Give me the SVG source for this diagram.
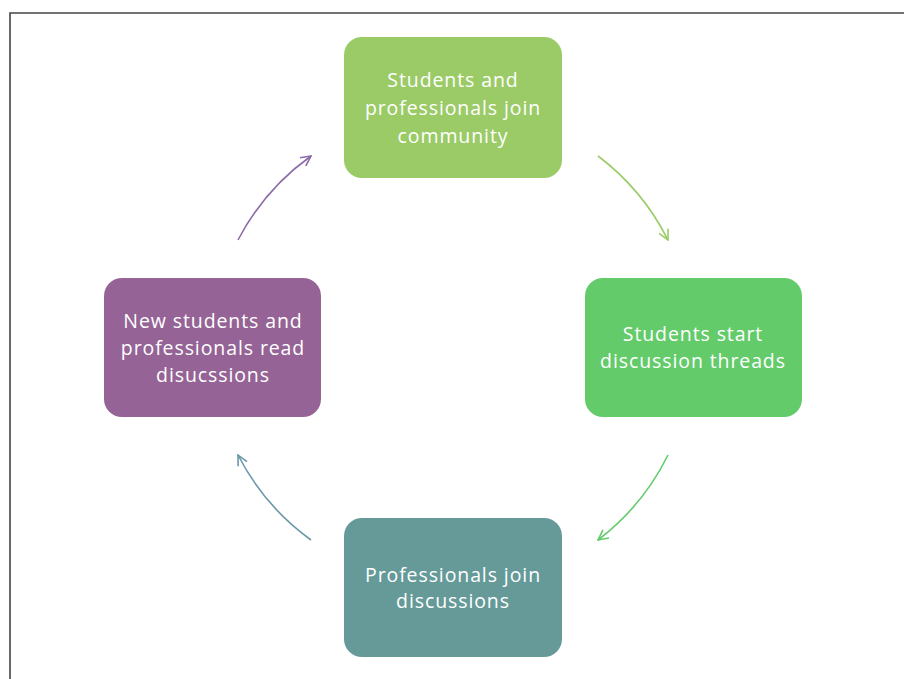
<svg xmlns="http://www.w3.org/2000/svg" width="904" height="679" viewBox="0 0 904 679">
<style>
.t{font-family:"Open Sans","Liberation Sans",sans-serif;font-size:19.5px;letter-spacing:0.9px;fill:#fff;text-anchor:middle}
.c{fill:none;stroke-width:1.6}
</style>
<defs>
<marker id="mg1" viewBox="0 0 12 12" refX="11" refY="6" markerWidth="12" markerHeight="12" markerUnits="userSpaceOnUse" orient="auto"><path d="M1,1 L11,6 L1,11" fill="none" stroke="#9BCB67" stroke-width="1.6"/></marker>
<marker id="mg2" viewBox="0 0 12 12" refX="11" refY="6" markerWidth="12" markerHeight="12" markerUnits="userSpaceOnUse" orient="auto"><path d="M1,1 L11,6 L1,11" fill="none" stroke="#63CB6A" stroke-width="1.6"/></marker>
<marker id="mt" viewBox="0 0 12 12" refX="11" refY="6" markerWidth="12" markerHeight="12" markerUnits="userSpaceOnUse" orient="auto"><path d="M1,1 L11,6 L1,11" fill="none" stroke="#6B97A9" stroke-width="1.6"/></marker>
<marker id="mp" viewBox="0 0 12 12" refX="11" refY="6" markerWidth="12" markerHeight="12" markerUnits="userSpaceOnUse" orient="auto"><path d="M1,1 L11,6 L1,11" fill="none" stroke="#8B6BA8" stroke-width="1.6"/></marker>
</defs>
<rect width="904" height="679" fill="#fff"/>
<path d="M10,680 L10,13 L905,13" fill="none" stroke="#444" stroke-width="1.6"/>
<g id="connectors">
<path class="c" d="M598,156 A240,240 0 0 1 668,240" stroke="#9BCB67" marker-end="url(#mg1)"/>
<path class="c" d="M668,455 A240,240 0 0 1 598,540" stroke="#63CB6A" marker-end="url(#mg2)"/>
<path class="c" d="M311,540 A240,240 0 0 1 238,455" stroke="#6B97A9" marker-end="url(#mt)"/>
<path class="c" d="M238,240 A240,240 0 0 1 311,156" stroke="#8B6BA8" marker-end="url(#mp)"/>
</g>
<g id="n1">
<rect x="344" y="37" width="218" height="141" rx="18" fill="#9BCB67"/>
<text class="t" x="453" y="87">Students and</text>
<text class="t" x="453" y="115">professionals join</text>
<text class="t" x="453" y="143">community</text>
</g>
<g id="n2">
<rect x="585" y="278" width="217" height="139" rx="18" fill="#63CB6A"/>
<text class="t" x="693" y="341">Students start</text>
<text class="t" x="693" y="368">discussion threads</text>
</g>
<g id="n3">
<rect x="344" y="518" width="218" height="139" rx="18" fill="#659A99"/>
<text class="t" x="453" y="582">Professionals join</text>
<text class="t" x="453" y="608">discussions</text>
</g>
<g id="n4">
<rect x="104" y="278" width="217" height="139" rx="18" fill="#956395"/>
<text class="t" x="213" y="328">New students and</text>
<text class="t" x="213" y="355">professionals read</text>
<text class="t" x="213" y="382">disucssions</text>
</g>
</svg>
